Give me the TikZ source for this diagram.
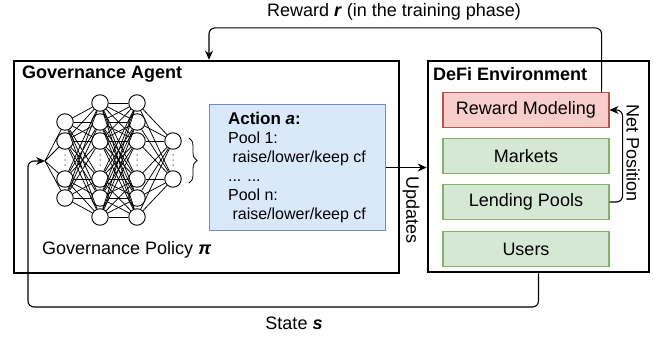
\documentclass[tikz,border=0pt]{standalone}
\usepackage{fontspec}
\setmainfont{Liberation Sans}
\usetikzlibrary{arrows.meta,decorations.pathreplacing,calc}
\definecolor{redfill}{HTML}{F8CECC}
\definecolor{redline}{HTML}{B85450}
\definecolor{greenfill}{HTML}{D5E8D4}
\definecolor{greenline}{HTML}{82B366}
\definecolor{bluefill}{HTML}{DAE8FC}
\definecolor{blueline}{HTML}{6C8EBF}
\begin{document}
\begin{tikzpicture}[x=1pt,y=-1pt,
  bigbox/.style={draw=black,line width=2.6pt,inner sep=0pt},
  envitem/.style={draw=greenline,fill=greenfill,line width=1.1pt,minimum width=166pt,minimum height=35pt,inner sep=0pt,font=\fontsize{18}{21}\selectfont},
  rewitem/.style={envitem,draw=redline,fill=redfill},
  actbox/.style={draw=blueline,fill=bluefill,line width=1pt,minimum width=176pt,minimum height=125pt,inner sep=0pt,align=left,font=\fontsize{16}{19}\selectfont},
  conn/.style={draw=black,line width=1.1pt},
  arr/.style={conn,-{Stealth[length=9pt,width=8pt]}},
  neuron/.style={circle,draw=black,fill=white,line width=0.9pt,minimum size=16.5pt,inner sep=0pt},
  nnline/.style={draw=black,line width=0.75pt},
  dotmark/.style={circle,fill=black!70,inner sep=0pt,minimum size=1.5pt},
  lbl/.style={inner sep=0pt,font=\fontsize{18}{21}\selectfont},
  ttl/.style={inner sep=0pt,anchor=west,font=\fontsize{18}{21}\selectfont\bfseries}
]
\useasboundingbox (0,0) rectangle (654,337);

% main boxes
\node[bigbox,minimum width=385pt,minimum height=212pt] (agent) at (206.5,167) {};
\node[bigbox,minimum width=221pt,minimum height=211pt] (env) at (538.5,166.5) {};
\node[ttl] (agtitle) at (22,74) {Governance Agent};
\node[ttl] (envtitle) at (433,74) {DeFi Environment};

% environment items
\node[rewitem] (rm) at (526,110) {Reward Modeling};
\node[envitem] (mk) at (526,156) {Markets};
\node[envitem] (lp) at (526,202) {Lending Pools};
\node[envitem] (us) at (526,249) {Users};

% action box
\node[actbox] (action) at (297,167.5) {{\fontsize{17}{19}\selectfont\textbf{Action \textit{a}:}}\\Pool 1:\\\ raise/lower/keep cf\\... ...\\Pool n:\\\ raise/lower/keep cf};

% neural network
\coordinate (in) at (45,161);
\foreach \y [count=\i] in {122,141,179,198} \node[neuron] (a\i) at (65,\y) {};
\foreach \y [count=\i] in {103,122,141,179,198,217} \node[neuron] (b\i) at (100,\y) {};
\foreach \y [count=\i] in {103,122,141,179,198,217} \node[neuron] (c\i) at (137,\y) {};
\foreach \y [count=\i] in {141,179} \node[neuron] (d\i) at (173,\y) {};
\foreach \i in {1,...,4} \draw[nnline] (in) -- (a\i);
\foreach \i in {1,...,4} \foreach \j in {1,...,6} \draw[nnline] (a\i) -- (b\j);
\foreach \i in {1,...,6} \foreach \j in {1,...,6} \draw[nnline] (b\i) -- (c\j);
\foreach \i in {1,...,6} \foreach \j in {1,2} \draw[nnline] (c\i) -- (d\j);
\foreach \x/\n in {65/a,100/b,137/c,173/d}
  \foreach \y [count=\k] in {155,160,165} \node[dotmark] (dot\n\k) at (\x,\y) {};
\draw[line width=0.8pt,decorate,decoration={brace,amplitude=8pt}] (189,138) -- (189,183);
\node[lbl,anchor=west] (policy) at (42,250) {Governance Policy \textbf{\textit{π}}};

% connectors
\draw[arr,rounded corners=6pt] ([xshift=-8pt]rm.north east) -- ++(0,-64) -| ([xshift=2.5pt]agent.north);
\node[lbl] (rewlbl) at (394,12) {Reward \textbf{\textit{r}} (in the training phase)};

\coordinate (sb) at (28,307);
\draw[arr,rounded corners=6pt] (env.south) |- (sb) |- (in);
\node[lbl] (statelbl) at (294,323) {State \textbf{\textit{s}}};

\draw[arr] (action.east) -- (env.west |- action.east);
\node[lbl,rotate=-90] (updlbl) at (411,210) {Updates};

\draw[arr,rounded corners=6pt] (lp.east) -- ++(13,0) |- (rm.east);
\node[lbl,rotate=-90] (netlbl) at (633,153) {Net Position};
\end{tikzpicture}
\end{document}
